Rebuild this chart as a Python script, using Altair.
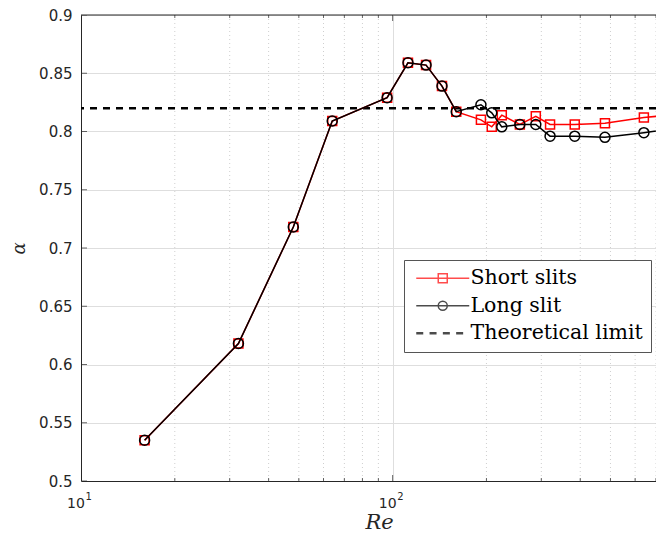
import altair as alt
import pandas as pd

# ---------------- data ----------------
re_vals = [16, 32, 48, 64, 96, 112, 128, 144, 160, 192, 208, 224, 256, 288, 320, 384, 480, 640, 768]
alpha_short = [0.535, 0.618, 0.718, 0.809, 0.829, 0.859, 0.857, 0.839, 0.817,
               0.810, 0.804, 0.814, 0.806, 0.813, 0.806, 0.806, 0.807, 0.812, 0.814]
alpha_long = [0.535, 0.618, 0.718, 0.809, 0.829, 0.859, 0.857, 0.839, 0.817,
              0.823, 0.816, 0.804, 0.806, 0.806, 0.796, 0.796, 0.795, 0.799, 0.802]
theory_alpha = [0.82]

series_names = ["Short slits", "Long slit", "Theoretical limit"]
series_colors = ["#ff0000", "#000000", "#000000"]

x_major = [10, 100]
x_label_base = ["10", "10"]
x_label_exp = ["1", "2"]
x_minor = [20, 30, 40, 50, 60, 70, 80, 90, 200, 300, 400, 500, 600, 700]
y_ticks = [0.5, 0.55, 0.6, 0.65, 0.7, 0.75, 0.8, 0.85, 0.9]
x_domain = [10, 700]
y_domain = [0.5, 0.9]

# ---------------- frames ----------------
df_short = pd.DataFrame({"Re": re_vals, "alpha": alpha_short})
df_long = pd.DataFrame({"Re": re_vals, "alpha": alpha_long})
df_theory = pd.DataFrame({"alpha": theory_alpha})
df_minor = pd.DataFrame({"Re": x_minor})
df_major = pd.DataFrame({"Re": x_major})
df_xlab = pd.DataFrame({"Re": x_major, "alpha": [y_domain[0]] * len(x_major),
                        "base": x_label_base, "exp": x_label_exp})
df_xticks_major = pd.DataFrame({"Re": x_major, "alpha": [y_domain[0]] * len(x_major)})
df_xticks_minor = pd.DataFrame({"Re": x_minor, "alpha": [y_domain[0]] * len(x_minor)})
df_xticks_major_top = pd.DataFrame({"Re": x_major, "alpha": [y_domain[1]] * len(x_major)})
df_xticks_minor_top = pd.DataFrame({"Re": x_minor, "alpha": [y_domain[1]] * len(x_minor)})
df_yticks = pd.DataFrame({"Re": [x_domain[0]] * len(y_ticks), "alpha": y_ticks})
df_top = pd.DataFrame({"alpha": [y_domain[1]]})
df_legend = pd.DataFrame({"series": series_names})

W, H = 575, 466
AX = "#262626"

xscale = alt.Scale(type="log", domain=x_domain, nice=False)
yscale = alt.Scale(domain=y_domain, nice=False, zero=False)

x_enc = alt.X(
    "Re:Q",
    scale=xscale,
    axis=alt.Axis(
        values=x_major,
        labels=False,
        grid=True,
        gridColor="#dedede",
        ticks=False,
        tickSize=0,
        domainColor=AX,
        title="Re",
        titleFont="DejaVu Serif",
        titleFontStyle="italic",
        titleFontWeight="normal",
        titleFontSize=21,
        titleColor=AX,
        titleX=298,
        titleY=47,
        titleBaseline="alphabetic",
    ),
)
y_enc = alt.Y(
    "alpha:Q",
    scale=yscale,
    axis=alt.Axis(
        values=y_ticks,
        format=".2~f",
        grid=True,
        gridColor="#dedede",
        ticks=False,
        tickSize=0,
        domainColor=AX,
        labelColor=AX,
        labelFont="DejaVu Sans",
        labelFontSize=15,
        labelPadding=9,
        title="α",
        titleFont="DejaVu Serif",
        titleFontStyle="italic",
        titleFontWeight="normal",
        titleFontSize=18,
        titleColor=AX,
        titleAngle=-90,
        titleX=-62,
        titleY=H / 2,
        titleAlign="center",
        titleBaseline="middle",
    ),
)

x_plain = alt.X("Re:Q", scale=xscale)
y_plain = alt.Y("alpha:Q", scale=yscale)

# minor dotted grid
minor_grid = alt.Chart(df_minor).mark_rule(
    color="#cfcfcf", strokeDash=[1, 3], strokeWidth=1
).encode(x=x_enc)

# inward ticks (clipped to the plot area)
def ticks(df, size, orient):
    return alt.Chart(df).mark_tick(
        orient=orient, size=size, thickness=1, color=AX, clip=True
    ).encode(x=x_plain, y=y_plain)

tick_layers = [
    ticks(df_xticks_major, 12, "vertical"),
    ticks(df_xticks_minor, 6, "vertical"),
    ticks(df_xticks_major_top, 12, "vertical"),
    ticks(df_xticks_minor_top, 6, "vertical"),
    ticks(df_yticks, 12, "horizontal"),
]

# x tick labels as base + superscript exponent
xlab_base = alt.Chart(df_xlab).mark_text(
    font="DejaVu Sans", fontSize=14, color=AX, align="center",
    baseline="alphabetic", dx=-5, dy=27
).encode(x=x_plain, y=y_plain, text="base:N")
xlab_exp = alt.Chart(df_xlab).mark_text(
    font="DejaVu Sans", fontSize=10, color=AX, align="left",
    baseline="alphabetic", dx=4.5, dy=19
).encode(x=x_plain, y=y_plain, text="exp:N")

theory = alt.Chart(df_theory).mark_rule(
    color="#000000", strokeDash=[7, 6], strokeWidth=2.5, clip=True
).encode(y=y_plain)

short_line = alt.Chart(df_short).mark_line(color="#ff0000", strokeWidth=1.5, clip=True).encode(
    x=x_plain, y=y_plain
)
short_pts = alt.Chart(df_short).mark_point(
    shape="square", size=81, filled=False, color="#ff0000", strokeWidth=1.5, opacity=1, clip=True
).encode(x=x_plain, y=y_plain)
long_line = alt.Chart(df_long).mark_line(color="#000000", strokeWidth=1.5, clip=True).encode(
    x=x_plain, y=y_plain
)
long_pts = alt.Chart(df_long).mark_point(
    shape="circle", size=100, filled=False, color="#000000", strokeWidth=1.5, opacity=1, clip=True
).encode(x=x_plain, y=y_plain)

top_border = alt.Chart(df_top).mark_rule(color=AX, strokeWidth=1).encode(y=y_plain)

# ---------------- legend symbols (line + marker as custom paths) ----------------
SYM = 144          # symbol size -> 12 px box, 6 px per path unit
unit = (SYM ** 0.5) / 2
L0 = -1.0
L1 = L0 + 53 / unit
C = (L0 + L1) / 2
M = 4.5 / unit


def f(v):
    return f"{v:.3f}"


line_path = f"M{f(L0)},0H{f(L1)}"
square_path = f"M{f(C - M)},{f(-M)}H{f(C + M)}V{f(M)}H{f(C - M)}Z"
circle_path = (
    f"M{f(C - M)},0A{f(M)},{f(M)} 0 1,0 {f(C + M)},0A{f(M)},{f(M)} 0 1,0 {f(C - M)},0Z"
)
dash_len = 7 / unit
dash_per = 13.3 / unit
dash_parts = []
s = L0
while s < L1:
    e = min(s + dash_len, L1)
    for dy in (-0.08, 0.08):
        dash_parts.append(f"M{f(s)},{f(dy)}H{f(e)}")
    s += dash_per
dash_path = "".join(dash_parts)

shape_range = [line_path + square_path, line_path + circle_path, dash_path]

legend = alt.Legend(
    title=None,
    orient="none",
    legendX=323,
    legendY=245,
    padding=8,
    strokeColor="#555555",
    fillColor="#ffffff",
    rowPadding=6.5,
    labelFont="DejaVu Serif",
    labelFontSize=20.5,
    labelColor="#000000",
    labelOffset=38,
    labelLimit=400,
    symbolOffset=0,
    symbolSize=SYM,
    symbolStrokeWidth=1.5,
    symbolFillColor="transparent",
)

legend_layer = alt.Chart(df_legend).mark_point(filled=False, strokeWidth=1.5).encode(
    x=alt.value(0),
    y=alt.value(0),
    color=alt.Color(
        "series:N",
        scale=alt.Scale(domain=series_names, range=series_colors),
        legend=legend,
        sort=series_names,
    ),
    shape=alt.Shape(
        "series:N",
        scale=alt.Scale(domain=series_names, range=shape_range),
        legend=legend,
        sort=series_names,
    ),
).transform_filter("false")

axes_layer = alt.Chart(df_major).mark_rule(opacity=0).encode(x=x_enc, y=alt.value(0))
yaxis_layer = alt.Chart(df_theory).mark_rule(opacity=0).encode(y=y_enc, x=alt.value(0))

chart = alt.layer(
    minor_grid,
    axes_layer,
    yaxis_layer,
    *tick_layers,
    xlab_base,
    xlab_exp,
    theory,
    short_line,
    short_pts,
    long_line,
    long_pts,
    top_border,
    legend_layer,
).properties(
    width=W,
    height=H,
    autosize=alt.AutoSizeParams(type="none"),
    padding={"left": 73, "top": 7, "right": 0, "bottom": 52},
    background="#ffffff",
).configure_view(stroke=None)

chart.save("out.html", embed_options={"renderer": "svg", "actions": False})
